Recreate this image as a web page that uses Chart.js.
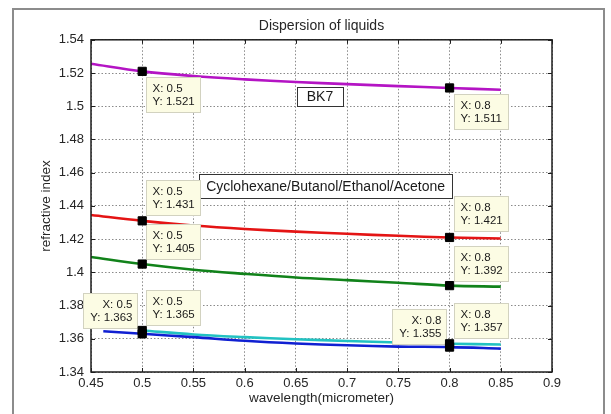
<!DOCTYPE html>
<html>
<head>
<meta charset="utf-8">
<script src="https://cdn.jsdelivr.net/npm/chart.js@4/dist/chart.umd.min.js"></script>
<style>
  html, body { margin: 0; padding: 0; background: #fff; }
</style>
</head>
<body>
<canvas id="chart" width="611" height="414"></canvas>
<script>
// wavelength in micrometer, refractive index per liquid
const wavelength = [0.45, 0.5, 0.55, 0.6, 0.65, 0.7, 0.75, 0.8, 0.85];
const bk7 = [1.5256, 1.521, 1.5182, 1.5162, 1.5146, 1.5133, 1.5121, 1.511, 1.5099];
const cyclohexane = [1.4345, 1.431, 1.4282, 1.4261, 1.4245, 1.4232, 1.422, 1.421, 1.4204];
const butanol = [1.4092, 1.405, 1.4016, 1.3991, 1.3969, 1.3953, 1.3937, 1.392, 1.3914];
const ethanolWavelength = [0.5, 0.55, 0.6, 0.65, 0.7, 0.75, 0.8, 0.85];
const ethanol = [1.365, 1.3626, 1.361, 1.3597, 1.3587, 1.3578, 1.357, 1.3566];
const acetoneWavelength = [0.462, 0.5, 0.55, 0.6, 0.65, 0.7, 0.75, 0.8, 0.85];
const acetone = [1.3645, 1.363, 1.361, 1.3588, 1.3572, 1.3561, 1.3553, 1.355, 1.3541];

// data tips
const tipX = [0.5, 0.8, 0.5, 0.8, 0.5, 0.8, 0.5, 0.5, 0.8, 0.8];
const tipY = [1.521, 1.511, 1.431, 1.421, 1.405, 1.392, 1.363, 1.365, 1.355, 1.357];
const tipXLabels = ["0.5", "0.8", "0.5", "0.8", "0.5", "0.8", "0.5", "0.5", "0.8", "0.8"];
const tipYLabels = ["1.521", "1.511", "1.431", "1.421", "1.405", "1.392", "1.363", "1.365", "1.355", "1.357"];

// text boxes on the plot
const noteText = ["BK7", "Cyclohexane/Butanol/Ethanol/Acetone"];
const noteX = [0.6735, 0.679];
const noteY = [1.5058, 1.4517];

// placement of the tip boxes relative to their point (px)
const tipLayout = [
  [4, 6], [4, 6], [4, -41], [4, -41], [4, -40], [4, -40],
  [-59, -41], [4, -40], [-58, -38], [4, -41]
];
const noteSize = [[46, 19], [253, 24]];

const FONT = "'Liberation Sans', Arial, sans-serif";
Chart.defaults.font.family = FONT;
Chart.defaults.color = "#262626";

const toXY = (xs, ys) => xs.map((x, i) => ({ x, y: ys[i] }));

const lineStyle = (color) => ({
  borderColor: color,
  backgroundColor: color,
  borderWidth: 2.6,
  pointRadius: 0,
  tension: 0.35,
  fill: false,
});

const decor = {
  id: "decor",
  beforeDraw(chart) {
    const { ctx } = chart;
    ctx.save();
    ctx.strokeStyle = "#8c8c8c";
    ctx.lineWidth = 2;
    ctx.strokeRect(13, 9, 591, 420);
    ctx.restore();
  },
  beforeDatasetDraw(chart, args) {
    if (args.index !== 0) return;
    const { ctx, chartArea: a, scales: { x, y } } = chart;
    ctx.save();

    // axes box with inward ticks
    ctx.strokeStyle = "#1e1e1e";
    ctx.lineWidth = 1.5;
    ctx.strokeRect(a.left, a.top, a.right - a.left, a.bottom - a.top);
    ctx.lineWidth = 1;
    ctx.beginPath();
    x.ticks.forEach((t) => {
      const px = Math.round(x.getPixelForValue(t.value)) + 0.5;
      ctx.moveTo(px, a.bottom); ctx.lineTo(px, a.bottom - 4);
      ctx.moveTo(px, a.top); ctx.lineTo(px, a.top + 4);
    });
    y.ticks.forEach((t) => {
      const py = Math.round(y.getPixelForValue(t.value)) + 0.5;
      ctx.moveTo(a.left, py); ctx.lineTo(a.left + 4, py);
      ctx.moveTo(a.right, py); ctx.lineTo(a.right - 4, py);
    });
    ctx.stroke();

    // text boxes
    ctx.font = "14px " + FONT;
    ctx.textAlign = "center";
    ctx.textBaseline = "middle";
    noteText.forEach((txt, i) => {
      const cx = x.getPixelForValue(noteX[i]);
      const cy = y.getPixelForValue(noteY[i]);
      const [w, h] = noteSize[i];
      const l = Math.round(cx - w / 2) + 0.5, t = Math.round(cy - h / 2) + 0.5;
      ctx.fillStyle = "#fff";
      ctx.fillRect(l, t, w, h);
      ctx.strokeStyle = "#333";
      ctx.lineWidth = 1;
      ctx.strokeRect(l, t, w, h);
      ctx.fillStyle = "#1a1a1a";
      ctx.fillText(txt, cx, cy + 1);
    });

    // data tip boxes
    ctx.font = "11.5px " + FONT;
    tipX.forEach((v, i) => {
      const px = x.getPixelForValue(v);
      const py = y.getPixelForValue(tipY[i]);
      const [dx, dy] = tipLayout[i];
      const w = 54, h = 35;
      const l = Math.round(px + dx) + 0.5, t = Math.round(py + dy) + 0.5;
      ctx.fillStyle = "#fcfce4";
      ctx.fillRect(l, t, w, h);
      ctx.strokeStyle = "#d2d2c0";
      ctx.strokeRect(l, t, w, h);
      ctx.fillStyle = "#1a1a1a";
      const right = dx < 0;
      ctx.textAlign = right ? "right" : "left";
      const tx = right ? l + w - 5 : l + 6;
      ctx.fillText("X: " + tipXLabels[i], tx, t + 11);
      ctx.fillText("Y: " + tipYLabels[i], tx, t + 24);
    });
    ctx.restore();
  },
};

new Chart(document.getElementById("chart"), {
  type: "line",
  data: {
    datasets: [
      {
        label: "tips",
        data: toXY(tipX, tipY),
        showLine: false,
        pointStyle: "rect",
        pointRadius: 5.8,
        backgroundColor: "#000",
        borderColor: "#000",
        borderWidth: 1,
        order: 0,
      },
      { label: "Acetone", data: toXY(acetoneWavelength, acetone), ...lineStyle("#1020d2"), order: 1 },
      { label: "Ethanol", data: toXY(ethanolWavelength, ethanol), ...lineStyle("#22c2c2"), order: 2 },
      { label: "Butanol", data: toXY(wavelength, butanol), ...lineStyle("#11821a"), order: 3 },
      { label: "Cyclohexane", data: toXY(wavelength, cyclohexane), ...lineStyle("#e41414"), order: 4 },
      { label: "BK7", data: toXY(wavelength, bk7), ...lineStyle("#b414c4"), order: 5 },
    ],
  },
  options: {
    responsive: false,
    animation: false,
    devicePixelRatio: 1,
    layout: { padding: { left: 0, right: 59, top: 0, bottom: 0 } },
    plugins: {
      legend: { display: false },
      tooltip: { enabled: false },
      title: {
        display: true,
        text: "Dispersion of liquids",
        fullSize: false,
        color: "#262626",
        font: { size: 14, weight: "normal" },
        padding: { top: 18, bottom: 5 },
      },
    },
    scales: {
      x: {
        type: "linear",
        min: 0.45,
        max: 0.9,
        ticks: {
          stepSize: 0.05,
          padding: 4,
          font: { size: 13 },
          color: "#262626",
          callback: (v) => String(+v.toFixed(2)),
        },
        grid: { color: "#8a8a8a", lineWidth: 1, drawTicks: false },
        border: { display: false, dash: [1.5, 2] },
        title: {
          display: true,
          text: "wavelength(micrometer)",
          font: { size: 13.5 },
          color: "#262626",
          padding: { top: 0, bottom: 8 },
        },
        afterFit: (s) => { s.height = 42; },
      },
      y: {
        min: 1.34,
        max: 1.54,
        ticks: {
          stepSize: 0.02,
          padding: 7,
          font: { size: 13 },
          color: "#262626",
          callback: (v) => String(+v.toFixed(2)),
        },
        grid: { color: "#8a8a8a", lineWidth: 1, drawTicks: false },
        border: { display: false, dash: [1.5, 2] },
        title: {
          display: true,
          text: "refractive index",
          font: { size: 13.5 },
          color: "#262626",
          padding: { top: 38, bottom: 0 },
        },
        afterFit: (s) => { s.width = 91; },
      },
    },
  },
  plugins: [decor],
});
</script>
</body>
</html>
